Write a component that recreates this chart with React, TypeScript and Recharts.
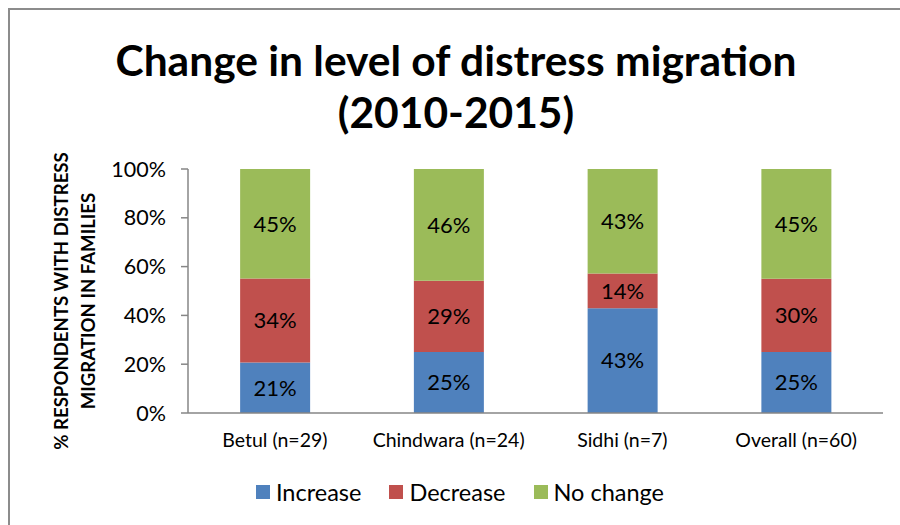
import React from "react";
import { BarChart, Bar, XAxis, YAxis, LabelList } from "recharts";

const categories = ["Betul (n=29)", "Chindwara (n=24)", "Sidhi (n=7)", "Overall (n=60)"];
const increase = [20.7, 25.0, 42.9, 25.0];
const decrease = [34.4, 29.2, 14.3, 30.0];
const noChange = [44.9, 45.8, 42.8, 45.0];
const yTicks = [0, 20, 40, 60, 80, 100];
const seriesNames = ["Increase", "Decrease", "No change"];
const seriesColors = ["#4F81BD", "#C0504D", "#9BBB59"];

const data = categories.map((c, i) => ({
  name: c,
  pos: i + 0.5,
  Increase: increase[i],
  Decrease: decrease[i],
  "No change": noChange[i],
}));

const FONT = "Lato, 'Open Sans', sans-serif";
const AXIS = "#868686";

export default function App() {
  return (
    <div style={{ position: "fixed", left: 8, top: 8, width: 910, height: 530, fontFamily: FONT, background: "#fff" }}>
      <style>{"html,body{overflow:hidden;}"}</style>
      <div style={{ position: "absolute", left: 0, top: 0, width: 910, height: 2, background: "#8c8c8c" }} />
      <div style={{ position: "absolute", left: 0, top: 0, width: 2, height: 530, background: "#8c8c8c" }} />
      <div style={{ position: "absolute", left: 4, top: 26, width: 888, textAlign: "center", fontWeight: 700, fontSize: 42.5, lineHeight: "52px", color: "#000" }}>
        Change in level of distress migration
        <br />
        (2010-2015)
      </div>
      <div style={{ position: "absolute", left: 0, top: 0 }}>
        <BarChart width={892} height={517} data={data} margin={{ top: 161, right: 17, left: 0, bottom: 82 }} barCategoryGap="30%">
          <XAxis xAxisId="ticks" type="number" dataKey="pos" domain={[0, 4]} ticks={[0, 1, 2, 3, 4]} height={0} axisLine={false} tick={false} tickSize={6} tickLine={{ stroke: AXIS, strokeWidth: 1.5 }} />
          <XAxis dataKey="name" type="category" height={30} axisLine={{ stroke: AXIS, strokeWidth: 1.5 }} tickLine={false} tick={{ fill: "#000", fontSize: 19.5, fontFamily: FONT }} tickMargin={14} interval={0} />
          <YAxis width={180} domain={[0, 100]} ticks={yTicks} tickFormatter={(v: number) => `${v}%`} axisLine={{ stroke: AXIS, strokeWidth: 1.5 }} tickLine={{ stroke: AXIS, strokeWidth: 1.5 }} tickSize={7} tickMargin={15} tick={{ fill: "#000", fontSize: 21.5, fontFamily: FONT }} allowDataOverflow />
          {seriesNames.map((s, i) => (
            <Bar key={s} dataKey={s} stackId="a" fill={seriesColors[i]} isAnimationActive={false}>
              <LabelList dataKey={s} position="center" formatter={(v: any) => `${Math.round(Number(v))}%`} style={{ fill: "#000", fontSize: 22, fontFamily: FONT }} />
            </Bar>
          ))}
        </BarChart>
      </div>
      <div style={{ position: "absolute", left: 67, top: 293, width: 0, height: 0 }}>
        <div style={{ position: "absolute", left: -170, top: -27, width: 340, transform: "rotate(-90deg)", transformOrigin: "170px 27px", textAlign: "center", fontWeight: 700, fontSize: 18.6, lineHeight: "27px", color: "#000", whiteSpace: "nowrap" }}>
          % RESPONDENTS WITH DISTRESS
          <br />
          MIGRATION IN FAMILIES
        </div>
      </div>
      <div style={{ position: "absolute", left: 0, top: 470, width: 892, paddingLeft: 12, boxSizing: "border-box", display: "flex", justifyContent: "center", alignItems: "center", fontSize: 23.5, color: "#000" }}>
        {seriesNames.map((s, i) => (
          <div key={s} style={{ display: "flex", alignItems: "center", marginRight: i < 2 ? 28 : 0 }}>
            <span style={{ display: "inline-block", width: 14, height: 14, background: seriesColors[i], marginRight: 6 }} />
            <span>{s}</span>
          </div>
        ))}
      </div>
    </div>
  );
}
